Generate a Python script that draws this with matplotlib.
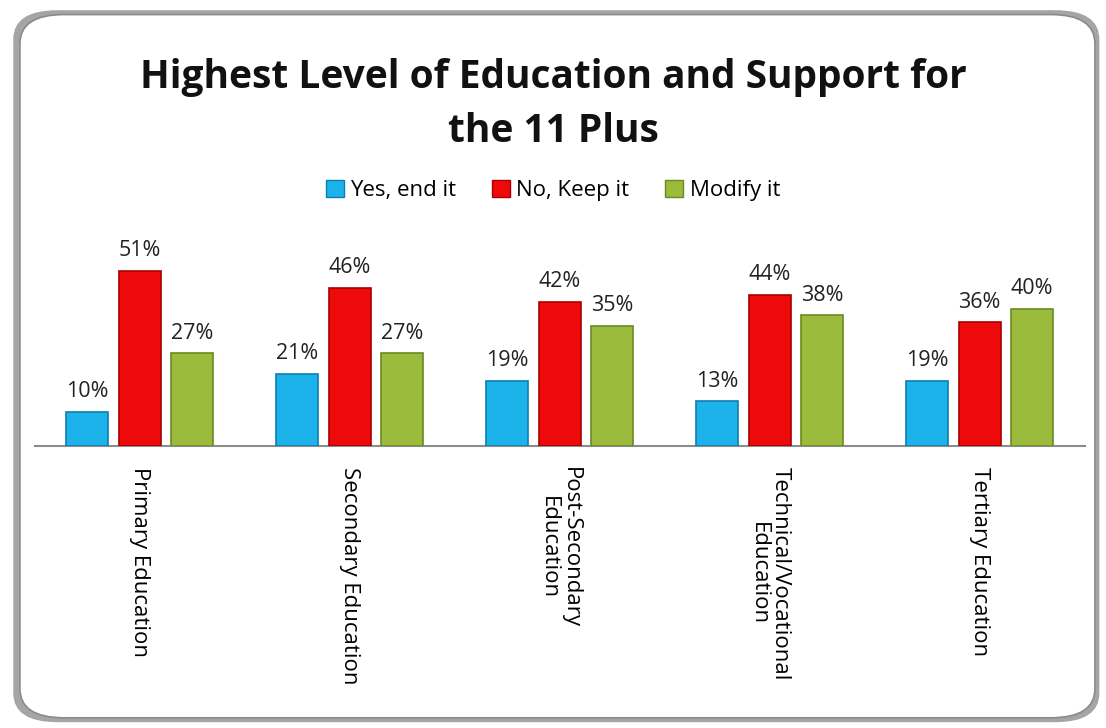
import numpy as np
import matplotlib.pyplot as plt
from matplotlib.patches import FancyBboxPatch, Patch

# data
categories = ['Primary Education', 'Secondary Education', 'Post-Secondary\nEducation',
              'Technical/Vocational\nEducation', 'Tertiary Education']
series_names = ['Yes, end it', 'No, Keep it', 'Modify it']
yes_end = [10, 21, 19, 13, 19]
no_keep = [51, 46, 42, 44, 36]
modify = [27, 27, 35, 38, 40]

colors = ['#1cb2ea', '#ee0a0a', '#9bbb3c']
edges = ['#0d7fae', '#a80000', '#6b8a22']

plt.rcParams['font.family'] = ['Open Sans', 'DejaVu Sans']

fig = plt.figure(figsize=(11.06, 7.28), dpi=100)
fig.patch.set_facecolor('white')

# rounded frame with shadow
shadow = FancyBboxPatch((0.012, 0.008), 0.982, 0.978,
                        boxstyle='round,pad=0,rounding_size=0.04',
                        transform=fig.transFigure, facecolor='#a5a5a5',
                        edgecolor='none', zorder=-2)
frame = FancyBboxPatch((0.018, 0.014), 0.972, 0.966,
                       boxstyle='round,pad=0,rounding_size=0.04',
                       transform=fig.transFigure, facecolor='white',
                       edgecolor='#8a8a8a', linewidth=1.2, zorder=-1)
fig.patches.extend([shadow, frame])

ax = fig.add_axes([0.0316, 0.3874, 0.949, 0.283], zorder=2)
ax.set_facecolor('none')

x = np.arange(len(categories))
width = 0.2
offsets = [-0.25, 0.0, 0.25]
for vals, off, c, ec in zip([yes_end, no_keep, modify], offsets, colors, edges):
    bars = ax.bar(x + off, vals, width, color=c, edgecolor=ec, linewidth=1.2, zorder=3)
    for b, v in zip(bars, vals):
        ax.annotate(f'{v}%', (b.get_x() + b.get_width() / 2, v),
                    xytext=(0, 7), textcoords='offset points',
                    ha='center', va='bottom', fontsize=15.5, color='#222222')

ax.set_xlim(-0.5, len(categories) - 0.5)
ax.set_ylim(0, 60)
ax.set_yticks([])
ax.set_xticks(x)
ax.set_xticklabels(categories, rotation=270, fontsize=16, va='top', ha='center',
                   multialignment='center', linespacing=1.05)
ax.tick_params(axis='x', length=0, pad=15)
for s in ['top', 'right', 'left']:
    ax.spines[s].set_visible(False)
ax.spines['bottom'].set_color('#8c8c8c')
ax.spines['bottom'].set_linewidth(1.5)

fig.text(0.5, 0.856, 'Highest Level of Education and Support for\nthe 11 Plus',
         ha='center', va='center', fontsize=28, fontweight='bold',
         linespacing=1.5, color='#111111')

handles = [Patch(facecolor=c, edgecolor=ec) for c, ec in zip(colors, edges)]
fig.legend(handles, series_names, loc='center', bbox_to_anchor=(0.5, 0.738),
           ncol=3, frameon=False, fontsize=16, handlelength=0.8, handleheight=0.8,
           handletextpad=0.3, columnspacing=1.6)

fig.savefig('out.png', dpi=100)
